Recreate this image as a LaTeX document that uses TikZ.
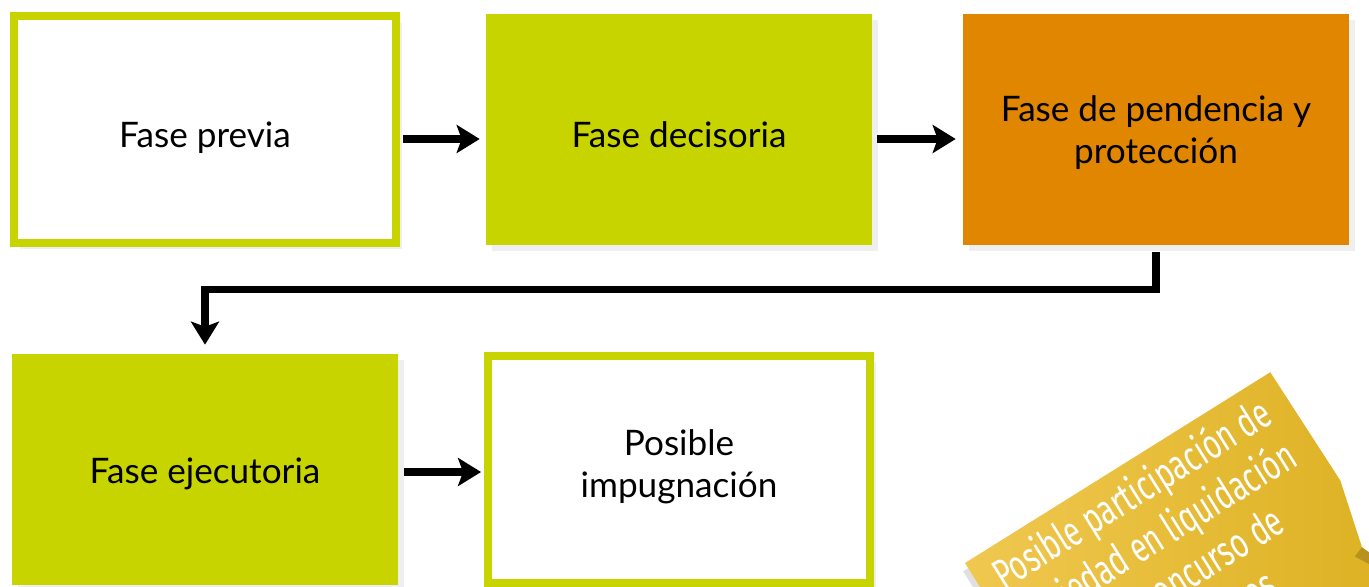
\documentclass[tikz,border=0pt]{standalone}
\usepackage{fontspec}
\setmainfont{Lato}
\newfontfamily\notefont{Fira Sans}[FakeStretch=0.69]
\usetikzlibrary{arrows.meta,shadows,positioning}
\definecolor{lima}{HTML}{C8D400}
\definecolor{naranja}{HTML}{E08600}
\definecolor{oro}{HTML}{F0C850}
\definecolor{oroosc}{HTML}{DCB020}
\definecolor{pliegue}{HTML}{B8921E}
\tikzset{
  fase/.style={rectangle, minimum width=7.72cm, minimum height=4.62cm, align=center,
    font=\fontsize{20}{23.5}\selectfont, text=black,
    drop shadow={opacity=0.13, shadow xshift=0.12cm, shadow yshift=-0.12cm}},
  llena/.style={fase, fill=#1},
  hueca/.style={fase, fill=white, draw=lima, line width=0.16cm,
    minimum width=7.64cm, minimum height=4.54cm},
  una/.style={text height=24pt, text depth=4pt},
  flecha/.style={line width=0.15cm, -{Stealth[length=0.46cm,width=0.56cm,inset=0.1cm]}},
}
\begin{document}
\begin{tikzpicture}[x=0.02cm, y=-0.02cm]
  \useasboundingbox (0,0) rectangle (1369,586);
  % upper row
  \node[hueca, una] (previa) at (205,129.5) {Fase previa};
  \node[llena=lima, una] (decis) at (679,129.5) {Fase decisoria};
  \node[llena=naranja, text height=40pt, text depth=1.8pt] (pend) at (1156,129.5) {Fase de pendencia y\\protección};
  % lower row
  \node[llena=lima, una, text height=19.5pt] (ejec) at (205,469.5) {Fase ejecutoria};
  \node[hueca, text height=36pt, text depth=4.4pt] (impug) at (679,469.5) {Posible\\impugnación};
  % arrows
  \draw[flecha, shorten <=0.06cm, shorten >=0.12cm] ([yshift=-0.19cm]previa.east) -- ([yshift=-0.19cm]decis.west);
  \draw[flecha, shorten <=0.1cm, shorten >=0.14cm] ([yshift=-0.19cm]decis.east) -- ([yshift=-0.19cm]pend.west);
  \draw[flecha, shorten <=0.12cm, shorten >=0.06cm] ([yshift=-0.05cm]ejec.east) -- ([yshift=-0.05cm]impug.west);
  \draw[flecha, shorten <=0.14cm, shorten >=0.18cm] (pend.south) -- ++(0,44) -| (ejec.north);
  % tilted note
  \begin{scope}[shift={(965,563)}, rotate=32]
    \fill[black, opacity=0.12] (-6,6) -- (354,6) -- (356,135) -- (339,203) -- (324,306) -- (-6,306) -- cycle;
    \shade[left color=oro, right color=oroosc] (0,0) -- (360,0) -- (362,129) -- (345,197) -- (330,300) -- (0,300) -- cycle;
    \fill[pliegue] (345,197) -- (334,201) -- (380,280) -- cycle;
    \node[rotate=32, inner sep=0pt, anchor=base, text=white, align=center,
      font=\notefont\fontsize{24}{28}\selectfont] (nota) at (178,192)
      {Posible participación de\\sociedad en liquidación\\o en concurso de\\acreedores};
  \end{scope}
\end{tikzpicture}
\end{document}
